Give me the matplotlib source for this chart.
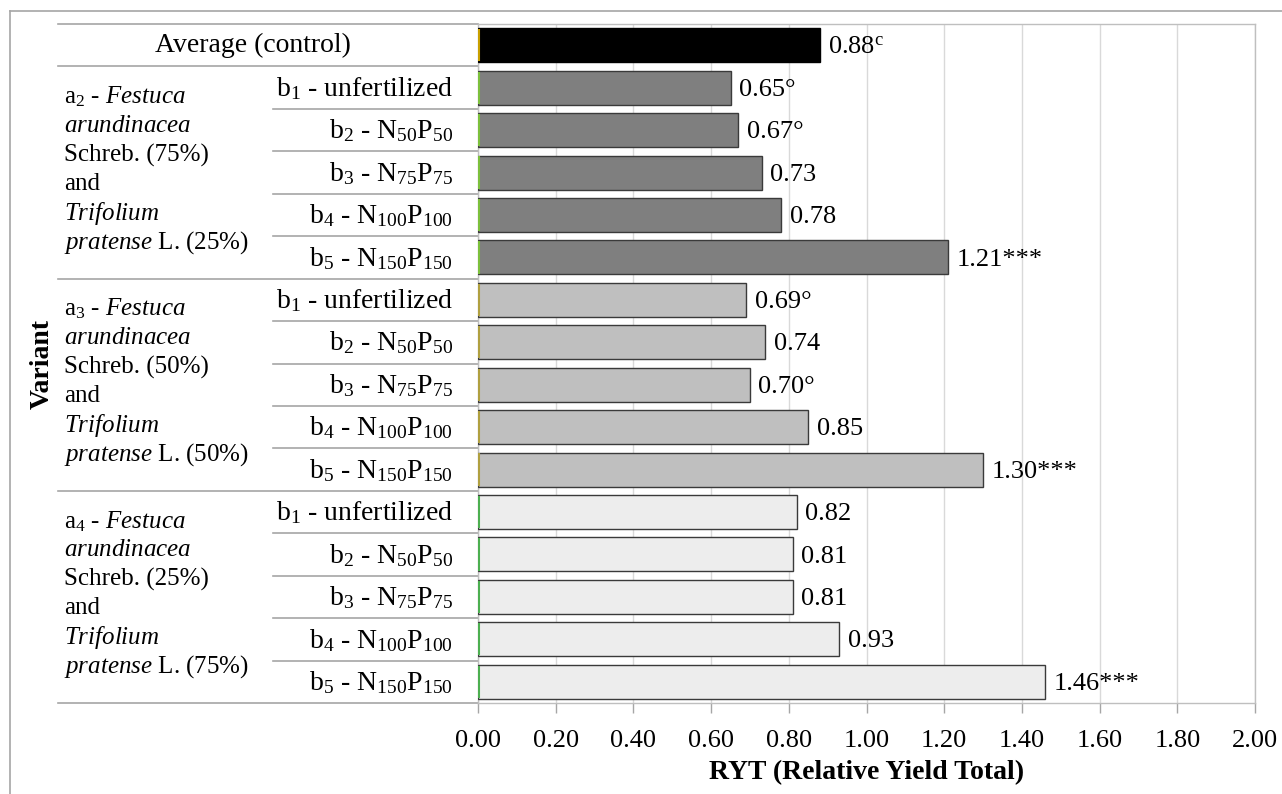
import numpy as np
import matplotlib
matplotlib.use('Agg')
import matplotlib.pyplot as plt
from matplotlib.lines import Line2D
from matplotlib.transforms import blended_transform_factory

plt.rcParams['font.family'] = 'Liberation Serif'
plt.rcParams['mathtext.fontset'] = 'custom'
plt.rcParams['mathtext.rm'] = 'Liberation Serif'
plt.rcParams['mathtext.it'] = 'Liberation Serif:italic'
plt.rcParams['mathtext.bf'] = 'Liberation Serif:bold'

# Datos
row_labels = [
    "Average (control)",
    r"b$_1$ - unfertilized", r"b$_2$ - N$_{50}$P$_{50}$", r"b$_3$ - N$_{75}$P$_{75}$",
    r"b$_4$ - N$_{100}$P$_{100}$", r"b$_5$ - N$_{150}$P$_{150}$",
    r"b$_1$ - unfertilized", r"b$_2$ - N$_{50}$P$_{50}$", r"b$_3$ - N$_{75}$P$_{75}$",
    r"b$_4$ - N$_{100}$P$_{100}$", r"b$_5$ - N$_{150}$P$_{150}$",
    r"b$_1$ - unfertilized", r"b$_2$ - N$_{50}$P$_{50}$", r"b$_3$ - N$_{75}$P$_{75}$",
    r"b$_4$ - N$_{100}$P$_{100}$", r"b$_5$ - N$_{150}$P$_{150}$",
]
ryt = [0.88,
       0.65, 0.67, 0.73, 0.78, 1.21,
       0.69, 0.74, 0.70, 0.85, 1.30,
       0.82, 0.81, 0.81, 0.93, 1.46]
value_labels = [r"0.88$^{\mathrm{c}}$",
                "0.65°", "0.67°", "0.73", "0.78", "1.21***",
                "0.69°", "0.74", "0.70°", "0.85", "1.30***",
                "0.82", "0.81", "0.81", "0.93", "1.46***"]
group_labels = [
    [r"a$_2$ - $\mathit{Festuca}$", r"$\mathit{arundinacea}$", "Schreb. (75%)", "and",
     r"$\mathit{Trifolium}$", r"$\mathit{pratense}$ L. (25%)"],
    [r"a$_3$ - $\mathit{Festuca}$", r"$\mathit{arundinacea}$", "Schreb. (50%)", "and",
     r"$\mathit{Trifolium}$", r"$\mathit{pratense}$ L. (50%)"],
    [r"a$_4$ - $\mathit{Festuca}$", r"$\mathit{arundinacea}$", "Schreb. (25%)", "and",
     r"$\mathit{Trifolium}$", r"$\mathit{pratense}$ L. (75%)"],
]
group_colors = ['#7f7f7f', '#bfbfbf', '#ededed']
edge_marks = ['#c8a000', '#7cc03c', '#b0a040', '#4caf50']

W, H = 1282, 794
fig = plt.figure(figsize=(W / 100, H / 100), dpi=100)
ax = fig.add_axes([478 / W, 1 - 703 / H, 777 / W, 679 / H])

colors = ['#000000'] + [c for c in group_colors for _ in range(5)]
edges = ['#000000'] + ['#3a3a3a'] * 15
y = np.arange(len(ryt))
ax.barh(y, ryt, height=0.8, color=colors, edgecolor=edges, linewidth=1.0, zorder=3)

# borde izquierdo de color de las barras
mark_cols = [edge_marks[0]] + [edge_marks[g + 1] for g in range(3) for _ in range(5)]
ax.vlines(np.full(len(ryt), 0.002), y - 0.38, y + 0.38, colors=mark_cols, linewidth=1.5, zorder=4)

for i, (v, lab) in enumerate(zip(ryt, value_labels)):
    ax.text(v + 0.022, i + 0.05, lab, va='center', ha='left', fontsize=19, zorder=4)

ax.set_ylim(len(ryt) - 0.5, -0.5)
ax.set_xlim(0, 2)
ax.set_xticks(np.arange(0, 2.01, 0.2))
ax.set_xticklabels([f"{t:.2f}" for t in np.arange(0, 2.01, 0.2)], fontsize=19)
ax.set_yticks([])
ax.tick_params(axis='x', length=7, color='#a6a6a6', width=1, pad=12.5)
ax.grid(axis='x', color='#d9d9d9', linewidth=1)
ax.set_axisbelow(True)
for s in ax.spines.values():
    s.set_color('#bfbfbf')
    s.set_linewidth(1)
ax.set_xlabel('RYT (Relative Yield Total)', fontsize=20, fontweight='bold', labelpad=6)

# Tabla de etiquetas a la izquierda
tr = blended_transform_factory(fig.transFigure, ax.transData)
line_kw = dict(transform=tr, color='#a6a6a6', linewidth=1.2, clip_on=False)
for yb in [-0.5, 0.5, 5.5, 10.5, 15.5]:
    ax.add_line(Line2D([58 / W, 478 / W], [yb, yb], **line_kw))
for g in range(3):
    for k in range(4):
        yb = 1.5 + 5 * g + k
        ax.add_line(Line2D([273 / W, 478 / W], [yb, yb], **line_kw))

ax.text(253 / W, 0, row_labels[0], transform=tr, ha='center', va='center', fontsize=20)
for i in range(1, len(row_labels)):
    ax.text(453 / W, i + 0.02, row_labels[i], transform=tr, ha='right', va='center', fontsize=20)

for g, lines in enumerate(group_labels):
    yc = 3 + 5 * g - 0.07
    for k, txt in enumerate(lines):
        ax.text(64 / W, yc + (k - 2.5) * 0.685, txt, transform=tr, ha='left', va='center', fontsize=18)

fig.text(42 / W, 1 - 364 / H, 'Variant', rotation=90, ha='center', va='center',
         fontsize=20, fontweight='bold')

# Marco exterior
fig.add_artist(Line2D([10 / W, 10 / W], [0, 1 - 11 / H], transform=fig.transFigure,
                      color='#a6a6a6', linewidth=1.2))
fig.add_artist(Line2D([10 / W, 1], [1 - 11 / H, 1 - 11 / H], transform=fig.transFigure,
                      color='#a6a6a6', linewidth=1.2))

fig.savefig('out.png', dpi=100)
